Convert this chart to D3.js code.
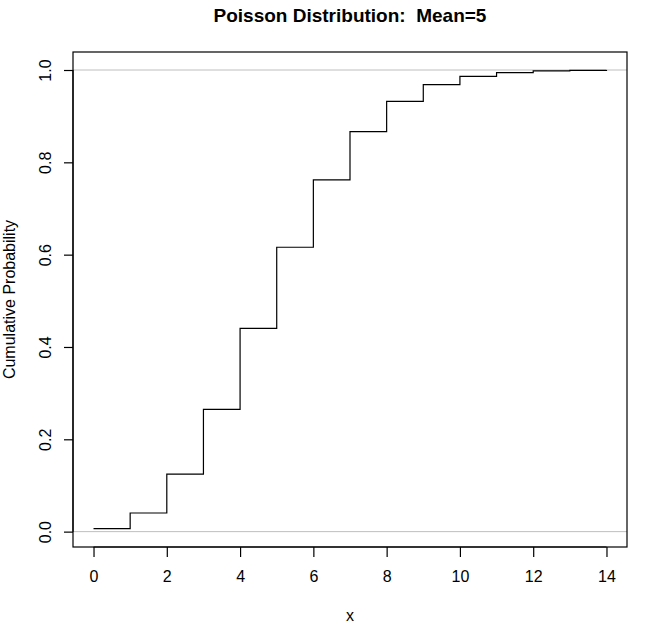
<!DOCTYPE html>
<html><head><meta charset="utf-8">
<script src="https://cdn.jsdelivr.net/npm/d3@7"></script>
<style>body{margin:0;background:#fff}</style>
</head><body>
<svg id="c" width="653" height="640"></svg>
<script>
const xs = [0,1,2,3,4,5,6,7,8,9,10,11,12,13,14];
const cdf = [0.0067,0.0404,0.1247,0.2650,0.4405,0.6160,0.7622,0.8666,0.9319,0.9682,0.9863,0.9945,0.9980,0.9993,0.9998];
const xTicks = [0,2,4,6,8,10,12,14];
const yTicks = [0,0.2,0.4,0.6,0.8,1.0];
const refLines = [0,1];
const title = "Poisson Distribution:  Mean=5";

const svg = d3.select("#c");
const L=73, R=627, T=52, B=547;
const font = "'Liberation Sans', Arial, sans-serif";
const x = d3.scaleLinear().domain([-0.56,14.56]).range([L,R]);
const y = d3.scaleLinear().domain([-0.0333,1.039]).range([B,T]);

// reference lines
svg.selectAll("line.ref").data(refLines).join("line")
  .attr("x1",L).attr("x2",R).attr("y1",d=>y(d)).attr("y2",d=>y(d))
  .attr("stroke","#bebebe").attr("stroke-width",1);

// step line
const pts = xs.map((v,i)=>[v,cdf[i]]);
svg.append("path").datum(pts)
  .attr("d", d3.line().x(d=>x(d[0])).y(d=>y(d[1])).curve(d3.curveStepAfter))
  .attr("fill","none").attr("stroke","#000").attr("stroke-width",1.2);

// box
svg.append("rect").attr("x",L).attr("y",T).attr("width",R-L).attr("height",B-T)
  .attr("fill","none").attr("stroke","#000").attr("stroke-width",1.2);

// x axis
const xa = svg.append("g").attr("transform",`translate(0,${B})`)
  .call(d3.axisBottom(x).tickValues(xTicks).tickSize(10).tickPadding(14).tickFormat(d3.format("d")));
xa.select(".domain").attr("d",`M${x(0)},0H${x(14)}`).attr("stroke-width",1.2);
xa.selectAll("text").attr("font-family",font).attr("font-size",16).attr("fill","#000");
xa.selectAll("line").attr("stroke-width",1.2);

// y axis
const ya = svg.append("g").attr("transform",`translate(${L},0)`)
  .call(d3.axisLeft(y).tickValues(yTicks).tickSize(9).tickFormat(d3.format(".1f")));
ya.select(".domain").attr("d",`M0,${y(0)}V${y(1)}`).attr("stroke-width",1.2);
ya.selectAll("line").attr("stroke-width",1.2);
ya.selectAll("text").attr("font-family",font).attr("font-size",16).attr("fill","#000")
  .attr("text-anchor","middle").attr("x",null).attr("dy",null)
  .attr("transform",`translate(${45-L},0) rotate(-90)`).attr("y",6);

// titles
svg.append("text").attr("x",(L+R)/2).attr("y",22).attr("text-anchor","middle")
  .style("white-space","pre")
  .attr("font-family",font).attr("font-weight","bold").attr("font-size",19).text(title);
svg.append("text").attr("x",(L+R)/2).attr("y",621).attr("text-anchor","middle")
  .attr("font-family",font).attr("font-size",16).text("x");
svg.append("text").attr("transform",`translate(15,${(T+B)/2}) rotate(-90)`).attr("text-anchor","middle")
  .attr("font-family",font).attr("font-size",16).text("Cumulative Probability");
</script>
</body></html>
